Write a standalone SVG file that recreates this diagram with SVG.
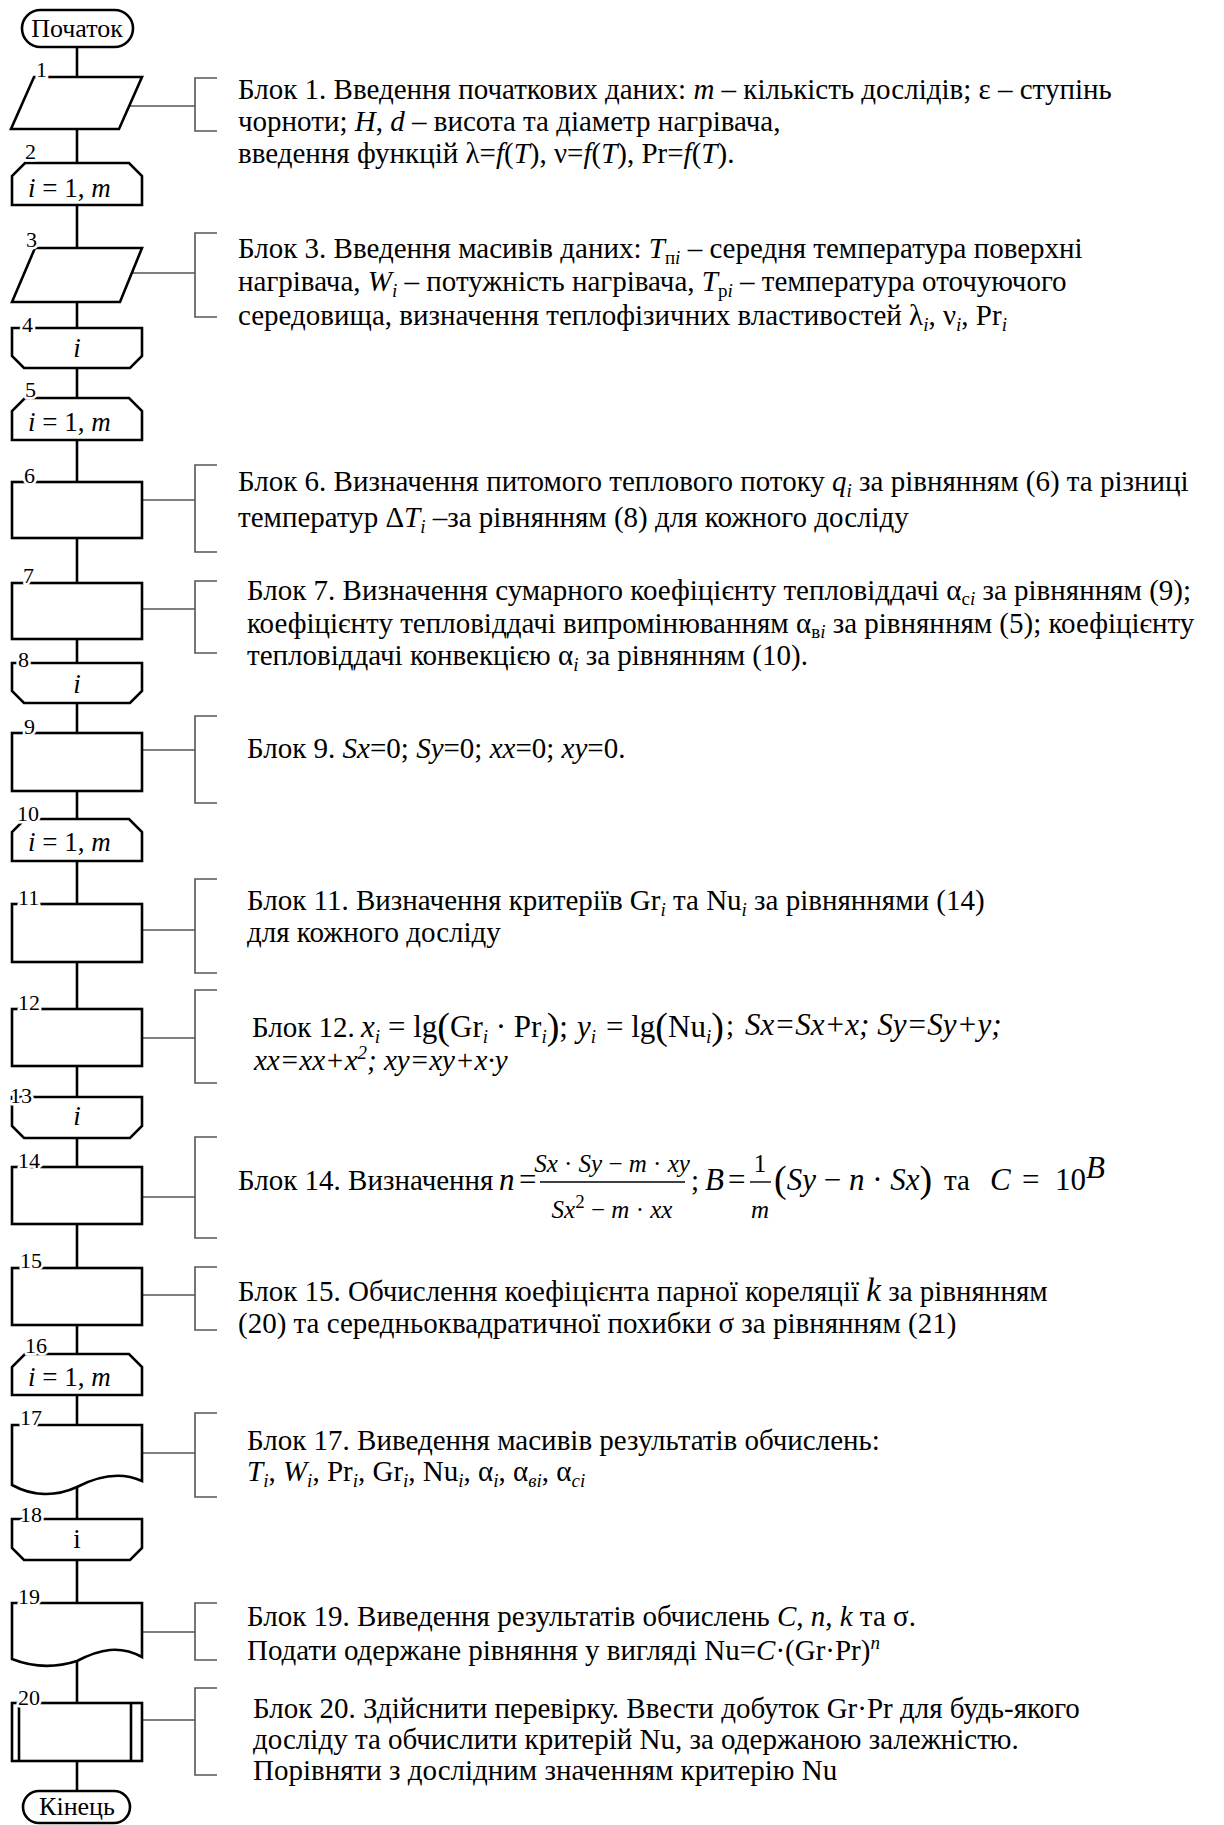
<svg xmlns="http://www.w3.org/2000/svg" width="1224" height="1825" viewBox="0 0 1224 1825">
<style>
text{font-family:"Liberation Serif","Times New Roman",serif;fill:#000}
.t{font-size:29px}
.lab{font-size:26px}
.lp{font-size:27px}
.num{font-size:22px;stroke:#fff;stroke-width:5;paint-order:stroke;stroke-linejoin:round}
.i{font-style:italic}
.s{font-size:19px}
.p{font-size:38px}
.m{font-size:31px}
.f{font-size:25px}
.sh{fill:#fff;stroke:#000;stroke-width:2.6;stroke-linejoin:miter}
.tr{stroke:#000;stroke-width:2.6;fill:none}
.ld{stroke:#555;stroke-width:1.6;fill:none}
.br{fill:none;stroke:#555;stroke-width:1.6}
.bar{stroke:#000;stroke-width:1.4}
</style>
<rect width="1224" height="1825" fill="#fff"/>

<g id="connectors">
  <path class="tr" d="M77,47V77 M77,129V163 M77,205V248 M77,302V328 M77,368V398 M77,440V482 M77,538V583 M77,639V663 M77,703V733 M77,791V819 M77,861V904 M77,962V1009 M77,1066V1097 M77,1138V1167 M77,1224V1268 M77,1325V1354 M77,1395V1425 M77,1487V1519 M77,1560V1603 M77,1662V1703 M77,1761V1791"/>
  <path class="ld" d="M129,106H195 M131,273H195 M142,500H195 M142,609H195 M142,750H195 M142,930H195 M142,1038H195 M142,1197H195 M142,1295H195 M142,1453H195 M142,1632H195 M142,1720H195"/>
</g>

<g id="n-start">
  <rect class="sh" x="22" y="10" width="111" height="37" rx="18.5"/>
  <text class="lab" x="77" y="37" text-anchor="middle">Початок</text>
</g>
<g id="n1">
  <polygon class="sh" points="34,77 142,77 119,129 11,129"/>
  <text class="num" x="36" y="77">1</text>
</g>
<g id="n2">
  <path class="sh" d="M12,205V176L25,163H129L142,176V205Z"/>
  <text class="num" x="25" y="159">2</text>
  <text class="lp" x="28" y="197"><tspan class="i">i</tspan> = 1, <tspan class="i">m</tspan></text>
</g>
<g id="n3">
  <polygon class="sh" points="35,248 142,248 120,302 12,302"/>
  <text class="num" x="26" y="247">3</text>
</g>
<g id="n4">
  <path class="sh" d="M12,328H142V356L130,368H24L12,356Z"/>
  <text class="num" x="22" y="332">4</text>
  <text class="lp i" x="77" y="357" text-anchor="middle">i</text>
</g>
<g id="n5">
  <path class="sh" d="M12,440V411L25,398H129L142,411V440Z"/>
  <text class="num" x="25" y="397">5</text>
  <text class="lp" x="28" y="431"><tspan class="i">i</tspan> = 1, <tspan class="i">m</tspan></text>
</g>
<g id="n6">
  <rect class="sh" x="12" y="482" width="130" height="56"/>
  <text class="num" x="24" y="483">6</text>
</g>
<g id="n7">
  <rect class="sh" x="12" y="583" width="130" height="56"/>
  <text class="num" x="23" y="583">7</text>
</g>
<g id="n8">
  <path class="sh" d="M12,663H142V691L130,703H24L12,691Z"/>
  <text class="num" x="18" y="667">8</text>
  <text class="lp i" x="77" y="693" text-anchor="middle">i</text>
</g>
<g id="n9">
  <rect class="sh" x="12" y="733" width="130" height="58"/>
  <text class="num" x="24" y="734">9</text>
</g>
<g id="n10">
  <path class="sh" d="M12,861V832L25,819H129L142,832V861Z"/>
  <text class="num" x="17" y="821">10</text>
  <text class="lp" x="28" y="851"><tspan class="i">i</tspan> = 1, <tspan class="i">m</tspan></text>
</g>
<g id="n11">
  <rect class="sh" x="12" y="904" width="130" height="58"/>
  <text class="num" x="18" y="905">11</text>
</g>
<g id="n12">
  <rect class="sh" x="12" y="1009" width="130" height="57"/>
  <text class="num" x="18" y="1010">12</text>
</g>
<g id="n13">
  <path class="sh" d="M12,1097H142V1126L130,1138H24L12,1126Z"/>
  <text class="num" x="10" y="1103">13</text>
  <text class="lp i" x="77" y="1125" text-anchor="middle">i</text>
</g>
<g id="n14">
  <rect class="sh" x="12" y="1167" width="130" height="57"/>
  <text class="num" x="18" y="1168">14</text>
</g>
<g id="n15">
  <rect class="sh" x="12" y="1268" width="130" height="57"/>
  <text class="num" x="20" y="1268">15</text>
</g>
<g id="n16">
  <path class="sh" d="M12,1395V1367L25,1354H129L142,1367V1395Z"/>
  <text class="num" x="25" y="1353">16</text>
  <text class="lp" x="28" y="1386"><tspan class="i">i</tspan> = 1, <tspan class="i">m</tspan></text>
</g>
<g id="n17">
  <path class="sh" d="M12,1425H142V1481C122,1472 100,1475 77,1487C55,1497 32,1496 12,1485Z"/>
  <text class="num" x="20" y="1425">17</text>
</g>
<g id="n18">
  <path class="sh" d="M12,1519H142V1548L130,1560H24L12,1548Z"/>
  <text class="num" x="20" y="1522">18</text>
  <text class="lp" x="77" y="1548" text-anchor="middle">i</text>
</g>
<g id="n19">
  <path class="sh" d="M12,1603H142V1657C120,1645 100,1649 77,1661C55,1668 32,1667 12,1659Z"/>
  <text class="num" x="18" y="1604">19</text>
</g>
<g id="n20">
  <rect class="sh" x="12" y="1703" width="130" height="58"/>
  <path class="tr" d="M19,1703V1761 M131,1703V1761"/>
  <text class="num" x="18" y="1705">20</text>
</g>
<g id="n-end">
  <rect class="sh" x="23" y="1791" width="107" height="32" rx="16"/>
  <text class="lab" x="77" y="1815" text-anchor="middle">Кінець</text>
</g>

<g id="note1">
  <path class="br" d="M217,78H195V131H217"/>
  <text class="t" x="238" y="99">Блок 1. Введення початкових даних: <tspan class="i">m</tspan> – кількість дослідів; ε – ступінь</text>
  <text class="t" x="238" y="131">чорноти; <tspan class="i">H</tspan>, <tspan class="i">d</tspan> – висота та діаметр нагрівача,</text>
  <text class="t" x="238" y="163">введення функцій λ=<tspan class="i">f</tspan>(<tspan class="i">T</tspan>), ν=<tspan class="i">f</tspan>(<tspan class="i">T</tspan>), Pr=<tspan class="i">f</tspan>(<tspan class="i">T</tspan>).</text>
</g>
<g id="note3">
  <path class="br" d="M217,233H195V317H217"/>
  <text class="t" x="238" y="258">Блок 3. Введення масивів даних: <tspan class="i">T</tspan><tspan class="s" dy="6">п</tspan><tspan class="s i">i</tspan><tspan dy="-6"> – середня температура поверхні</tspan></text>
  <text class="t" x="238" y="291">нагрівача, <tspan class="i">W</tspan><tspan class="s i" dy="6">i</tspan><tspan dy="-6"> – потужність нагрівача, </tspan><tspan class="i">T</tspan><tspan class="s" dy="6">р</tspan><tspan class="s i">i</tspan><tspan dy="-6"> – температура оточуючого</tspan></text>
  <text class="t" x="238" y="325">середовища, визначення теплофізичних властивостей λ<tspan class="s i" dy="6">i</tspan><tspan dy="-6">, ν</tspan><tspan class="s i" dy="6">i</tspan><tspan dy="-6">, Pr</tspan><tspan class="s i" dy="6">i</tspan></text>
</g>
<g id="note6">
  <path class="br" d="M217,465H195V552H217"/>
  <text class="t" x="238" y="491">Блок 6. Визначення питомого теплового потоку <tspan class="i">q</tspan><tspan class="s i" dy="6">i</tspan><tspan dy="-6"> за рівнянням (6) та різниці</tspan></text>
  <text class="t" x="238" y="527">температур Δ<tspan class="i">T</tspan><tspan class="s i" dy="6">i</tspan><tspan dy="-6"> –за рівнянням (8) для кожного досліду</tspan></text>
</g>
<g id="note7">
  <path class="br" d="M217,581H195V653H217"/>
  <text class="t" x="247" y="600">Блок 7. Визначення сумарного коефіцієнту тепловіддачі α<tspan class="s" dy="5">с</tspan><tspan class="s i">i</tspan><tspan dy="-5"> за рівнянням (9);</tspan></text>
  <text class="t" x="247" y="633">коефіцієнту тепловіддачі випромінюванням α<tspan class="s" dy="5">в</tspan><tspan class="s i">i</tspan><tspan dy="-5"> за рівнянням (5); коефіцієнту</tspan></text>
  <text class="t" x="247" y="665">тепловіддачі конвекцією α<tspan class="s i" dy="6">i</tspan><tspan dy="-6"> за рівнянням (10).</tspan></text>
</g>
<g id="note9">
  <path class="br" d="M217,716H195V803H217"/>
  <text class="t" x="247" y="758">Блок 9. <tspan class="i">Sx</tspan>=0; <tspan class="i">Sy</tspan>=0; <tspan class="i">xx</tspan>=0; <tspan class="i">xy</tspan>=0.</text>
</g>
<g id="note11">
  <path class="br" d="M217,879H195V973H217"/>
  <text class="t" x="247" y="910">Блок 11. Визначення критеріїв Gr<tspan class="s i" dy="6">i</tspan><tspan dy="-6"> та Nu</tspan><tspan class="s i" dy="6">i</tspan><tspan dy="-6"> за рівняннями (14)</tspan></text>
  <text class="t" x="247" y="942">для кожного досліду</text>
</g>
<g id="note12">
  <path class="br" d="M217,990H195V1083H217"/>
  <text class="t" x="252" y="1037">Блок 12.</text>
  <text class="m" y="1037"><tspan x="361" class="i">x</tspan><tspan class="s i" dy="6">i</tspan><tspan x="388" dy="-6">= lg</tspan><tspan class="p" dy="2">(</tspan><tspan dy="-2">Gr</tspan><tspan class="s i" dy="6">i</tspan><tspan dy="-6"> · Pr</tspan><tspan class="s i" dy="6">i</tspan><tspan class="p" dy="-4">)</tspan><tspan dy="-2">;</tspan><tspan x="577" class="i">y</tspan><tspan class="s i" dy="6">i</tspan><tspan x="606" dy="-6">= lg</tspan><tspan class="p" dy="2">(</tspan><tspan dy="-2">Nu</tspan><tspan class="s i" dy="6">i</tspan><tspan class="p" dy="-4">)</tspan></text>
  <text class="t" x="726" y="1035">;</text>
  <text class="m i" x="745" y="1035">Sx=Sx+x; Sy=Sy+y;</text>
  <text class="t i" x="254" y="1070">xx=xx+x<tspan class="s" dy="-11">2</tspan><tspan dy="11">; xy=xy+x·y</tspan></text>
</g>
<g id="note14">
  <path class="br" d="M217,1137H195V1238H217"/>
  <text class="t" x="238" y="1190">Блок 14. Визначення</text>
  <text class="m i" x="499" y="1190">n</text>
  <text class="m" x="519" y="1190">=</text>
  <text class="f" x="612" y="1172" text-anchor="middle"><tspan class="i">Sx</tspan> · <tspan class="i">Sy</tspan> − <tspan class="i">m</tspan> · <tspan class="i">xy</tspan></text>
  <line class="bar" x1="540" y1="1182" x2="685" y2="1182"/>
  <text class="f" x="612" y="1218" text-anchor="middle"><tspan class="i">Sx</tspan><tspan class="s" dy="-10">2</tspan><tspan dy="10"> − </tspan><tspan class="i">m</tspan> · <tspan class="i">xx</tspan></text>
  <text class="t" x="691" y="1190">;</text>
  <text class="m i" x="705" y="1190">B</text>
  <text class="m" x="728" y="1190">=</text>
  <text class="f" x="760" y="1172" text-anchor="middle">1</text>
  <line class="bar" x1="750" y1="1182" x2="771" y2="1182"/>
  <text class="f i" x="760" y="1218" text-anchor="middle">m</text>
  <text class="m" y="1190"><tspan x="774" class="p" dy="2">(</tspan><tspan class="i" dy="-2">Sy</tspan> − <tspan class="i">n</tspan> · <tspan class="i">Sx</tspan><tspan class="p" dy="2">)</tspan></text>
  <text class="t" x="944" y="1190">та</text>
  <text class="m" y="1190"><tspan x="990" class="i">C</tspan><tspan x="1022">=</tspan><tspan x="1055">10</tspan><tspan class="i" dy="-12">B</tspan></text>
</g>
<g id="note15">
  <path class="br" d="M217,1267H195V1330H217"/>
  <text class="t" x="238" y="1301">Блок 15. Обчислення коефіцієнта парної кореляції <tspan class="i" font-size="33">k</tspan>  за рівнянням</text>
  <text class="t" x="238" y="1333">(20) та середньоквадратичної похибки σ за рівнянням (21)</text>
</g>
<g id="note17">
  <path class="br" d="M217,1413H195V1497H217"/>
  <text class="t" x="247" y="1450">Блок 17. Виведення масивів результатів обчислень:</text>
  <text class="t" x="247" y="1481"><tspan class="i">T</tspan><tspan class="s i" dy="6">i</tspan><tspan dy="-6">, </tspan><tspan class="i">W</tspan><tspan class="s i" dy="6">i</tspan><tspan dy="-6">, Pr</tspan><tspan class="s i" dy="6">i</tspan><tspan dy="-6">, Gr</tspan><tspan class="s i" dy="6">i</tspan><tspan dy="-6">, Nu</tspan><tspan class="s i" dy="6">i</tspan><tspan dy="-6">, α</tspan><tspan class="s i" dy="6">i</tspan><tspan dy="-6">, α</tspan><tspan class="s i" dy="6">вi</tspan><tspan dy="-6">, α</tspan><tspan class="s i" dy="6">сi</tspan></text>
</g>
<g id="note19">
  <path class="br" d="M217,1603H195V1660H217"/>
  <text class="t" x="247" y="1626">Блок 19. Виведення результатів обчислень <tspan class="i">C</tspan>, <tspan class="i">n</tspan>, <tspan class="i">k</tspan> та σ.</text>
  <text class="t" x="247" y="1660">Подати одержане рівняння у вигляді Nu=<tspan class="i">C</tspan>·(Gr·Pr)<tspan class="s i" dy="-11">n</tspan></text>
</g>
<g id="note20">
  <path class="br" d="M217,1688H195V1775H217"/>
  <text class="t" x="253" y="1718">Блок 20. Здійснити перевірку. Ввести добуток Gr·Pr для будь-якого</text>
  <text class="t" x="253" y="1749">досліду та обчислити критерій Nu, за одержаною залежністю.</text>
  <text class="t" x="253" y="1780">Порівняти з дослідним значенням критерію Nu</text>
</g>
</svg>
